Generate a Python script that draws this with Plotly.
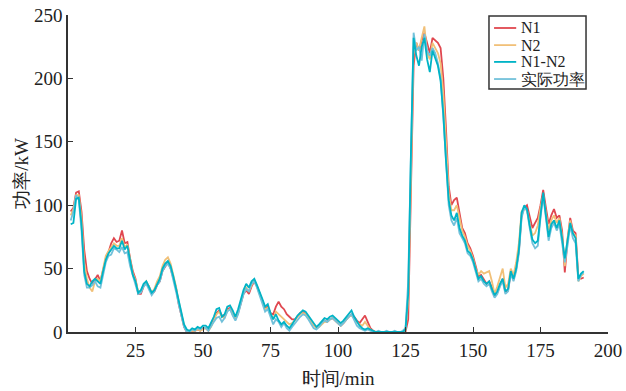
import plotly.graph_objects as go

# time axis (min)
t = list(range(1, 192))

n1 = [
    95, 98, 110, 111, 95, 65, 48, 42, 38, 42,
    45, 40, 48, 58, 63, 70, 74, 71, 72, 80,
    70, 71, 58, 48, 42, 30, 30, 36, 39, 36,
    30, 32, 37, 40, 48, 52, 55, 50, 43, 35,
    22, 12, 4, 0, 0, 1, 1, 2, 1, 3,
    3, 1, 5, 10, 15, 17, 13, 12, 18, 19,
    14, 10, 15, 23, 30, 33, 30, 36, 40, 36,
    30, 25, 19, 20, 15, 14, 20, 24, 20, 18,
    14, 12, 10, 10, 12, 15, 16, 14, 11, 8,
    6, 3, 5, 7, 9, 8, 10, 11, 9, 7,
    5, 7, 10, 12, 14, 12, 9, 7, 10, 13,
    8, 3, 1, 0, 0, 0, 0, 0, 0, 0,
    0, 0, 0, 0, 0, 10, 100, 210, 228, 222,
    230, 236, 228, 220, 232, 230, 228, 224, 200, 160,
    115, 100, 104, 106, 95, 82, 78, 70, 66, 60,
    52, 44, 45, 41, 38, 40, 35, 28, 31, 37,
    42, 31, 33, 47, 41, 50, 64, 92, 98, 100,
    90, 82, 86, 90, 100, 112, 98, 85, 92, 97,
    90, 92, 80, 47, 72, 90, 80, 78, 44, 42,
    43,
]

n2 = [
    92, 97, 108, 108, 90, 55, 42, 35, 32, 40,
    42, 40, 50, 60, 64, 67, 70, 68, 68, 74,
    67, 69, 56, 46, 41, 32, 32, 37, 40, 36,
    31, 34, 40, 44, 52, 57, 59, 54, 46, 36,
    24, 14, 5, 1, 0, 1, 1, 2, 1, 2,
    3, 1, 4, 9, 14, 16, 12, 11, 17, 18,
    14, 11, 16, 24, 31, 35, 32, 37, 41, 36,
    30, 24, 18, 19, 14, 10, 16, 14, 12, 10,
    8, 6, 7, 9, 12, 14, 15, 14, 11, 8,
    5, 3, 4, 6, 8, 8, 10, 11, 9, 7,
    5, 7, 10, 12, 13, 11, 8, 6, 5, 8,
    5, 2, 1, 0, 0, 0, 0, 0, 0, 0,
    0, 0, 0, 0, 1, 25, 120, 225, 228, 222,
    232, 241, 220, 215, 228, 224, 220, 212, 188, 150,
    110, 96, 96, 100, 90, 80, 75, 68, 64, 58,
    50, 45, 48, 46, 47, 48, 40, 30, 36, 44,
    50, 35, 38, 50, 45, 55, 70, 95, 98, 96,
    86, 76, 78, 84, 98, 108, 94, 80, 88, 92,
    86, 90, 76, 52, 74, 88, 78, 76, 40, 44,
    46,
]

n1n2 = [
    85, 86, 105, 106, 85, 48, 38, 36, 40, 42,
    40, 38, 48, 57, 62, 65, 68, 66, 66, 72,
    65, 68, 55, 45, 40, 31, 33, 38, 40, 35,
    31, 33, 38, 42, 50, 54, 56, 52, 44, 34,
    24, 14, 6, 2, 1, 3, 2, 4, 3, 5,
    5, 3, 7, 12, 18, 19, 12, 14, 20, 21,
    17, 12, 18, 26, 33, 38, 35, 40, 42, 37,
    32, 26, 20, 22, 15, 10, 14, 9, 6, 8,
    5, 3, 6, 10, 13, 15, 17, 16, 13, 9,
    6, 4, 6, 9, 11, 10, 12, 13, 11, 9,
    7, 9, 12, 14, 17, 12, 8, 5, 3, 2,
    3, 2, 1, 0, 0, 0, 0, 0, 0, 0,
    0, 0, 0, 0, 2, 30, 140, 232, 218, 210,
    225, 232, 215, 205, 222, 216, 210, 198, 172, 135,
    104, 92, 88, 94, 82, 76, 72, 64, 62, 57,
    50, 42, 44, 40, 38, 40, 34, 29, 32, 38,
    42, 32, 34, 48, 42, 50, 65, 94, 100, 97,
    84, 73, 70, 72, 92, 110, 92, 75, 85, 88,
    82, 88, 74, 58, 72, 86, 78, 74, 42, 46,
    48,
]

actual = [
    88, 95, 108, 104, 80, 45, 35, 35, 37, 40,
    36, 35, 45, 55, 60, 61, 66, 65, 63, 67,
    62, 63, 52, 45, 38, 30, 31, 36, 38, 34,
    29, 32, 37, 40, 48, 52, 54, 50, 42, 32,
    22, 12, 4, 0, 0, 2, 1, 3, 2, 4,
    3, 1, 5, 8, 11, 12, 8, 11, 16, 18,
    13, 9, 14, 22, 30, 34, 32, 38, 40, 35,
    28, 22, 16, 18, 12, 6, 10, 8, 4, 7,
    3, 1, 4, 7, 10, 12, 14, 13, 10, 6,
    3, 2, 4, 7, 9, 8, 10, 11, 9, 7,
    5, 7, 10, 12, 14, 9, 5, 3, 2, 1,
    2, 1, 0, 0, 1, 0, 0, 1, 0, 0,
    1, 0, 0, 1, 3, 40, 150, 236, 222, 225,
    214, 235, 222, 218, 224, 220, 212, 200, 170, 130,
    100, 88, 84, 90, 78, 74, 70, 62, 60, 55,
    48, 40, 42, 38, 36, 38, 32, 27, 30, 36,
    40, 30, 32, 46, 40, 48, 62, 90, 98, 96,
    82, 70, 66, 68, 90, 108, 90, 72, 82, 86,
    80, 85, 70, 55, 68, 84, 74, 70, 40, 45,
    47,
]

names = ["N1", "N2", "N1-N2", "实际功率"]
colors = ["#e0474f", "#f1c078", "#00b3c6", "#72c1da"]
series = [n1, n2, n1n2, actual]
draw_order = [0, 1, 3, 2]

x_ticks = [25, 50, 75, 100, 125, 150, 175, 200]
y_ticks = [0, 50, 100, 150, 200, 250]

FONT = "Liberation Serif"

fig = go.Figure()
for i in draw_order:
    fig.add_trace(go.Scatter(
        x=t, y=series[i], mode="lines", name=names[i],
        line=dict(color=colors[i], width=1.8), showlegend=False,
    ))

# custom compact legend (box + line samples + labels)
lx0, lx1, ly0, ly1 = 0.7796, 0.9593, 0.7666, 0.9968
shapes = [dict(type="rect", xref="paper", yref="paper", x0=lx0, x1=lx1, y0=ly0, y1=ly1,
               line=dict(color="#333333", width=1.5), fillcolor="white", layer="above")]
annotations = []
row_y = [0.959, 0.905, 0.852, 0.798]
for i, name in enumerate(names):
    shapes.append(dict(type="line", xref="paper", yref="paper", x0=0.789, x1=0.830,
                       y0=row_y[i], y1=row_y[i], line=dict(color=colors[i], width=1.8),
                       layer="above"))
    annotations.append(dict(xref="paper", yref="paper", x=0.836, y=row_y[i], text=name,
                            showarrow=False, xanchor="left", yanchor="middle",
                            font=dict(family=FONT, size=16, color="#222222")))

fig.update_layout(
    width=626, height=391,
    margin=dict(l=68, r=18, t=15, b=59),
    paper_bgcolor="white", plot_bgcolor="white",
    font=dict(family=FONT, size=19, color="#222222"),
    shapes=shapes, annotations=annotations,
    showlegend=False,
)
fig.update_xaxes(
    range=[0, 200], tickvals=x_ticks, ticks="inside", ticklen=5, tickwidth=1.2,
    tickcolor="#333333", showline=True, linecolor="#333333", linewidth=1.5,
    showgrid=False, zeroline=False, mirror=False, automargin=False,
    title=dict(text="时间/min", standoff=12, font=dict(family=FONT, size=19)),
    tickfont=dict(family=FONT, size=19),
)
fig.update_yaxes(
    range=[0, 250], tickvals=y_ticks, ticks="inside", ticklen=5, tickwidth=1.2,
    tickcolor="#333333", showline=True, linecolor="#333333", linewidth=1.5,
    showgrid=False, zeroline=False, mirror=False, automargin=False,
    title=dict(text="功率/kW", standoff=0, font=dict(family=FONT, size=19)),
    tickfont=dict(family=FONT, size=19),
)

fig.write_html("out.html")
